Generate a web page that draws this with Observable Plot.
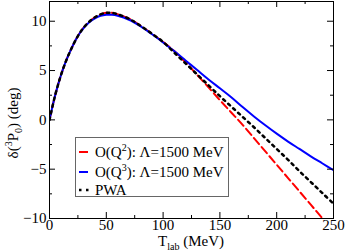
<!DOCTYPE html>
<html><head><meta charset="utf-8">
<script src="https://cdn.jsdelivr.net/npm/d3@7"></script>
<script src="https://cdn.jsdelivr.net/npm/@observablehq/plot@0.6"></script>
<style>body{margin:0;background:#fff} svg{display:block} svg text{font-family:"Liberation Serif","DejaVu Serif",serif}</style>
</head><body><div id="chart"></div>
<script>
const tlab = [0,5,10,15,20,25,30,35,40,45,50,55,60,70,80,90,100,110,120,130,140,150,160,170,180,190,200,210,220,230,240,250];
const q2 = [0,2.5,4.5,6.1,7.4,8.5,9.35,9.95,10.4,10.7,10.85,10.85,10.7,10.25,9.55,8.75,7.9,6.95,5.8,4.55,3.3,2.0,0.75,-0.5,-1.85,-3.2,-4.55,-5.9,-7.25,-8.6,-9.95,-11.3];
const q3 = [0,2.5,4.5,6.1,7.4,8.5,9.3,9.9,10.3,10.55,10.65,10.65,10.55,10.15,9.5,8.7,7.85,6.95,6.0,5.05,4.1,3.2,2.3,1.3,0.35,-0.55,-1.4,-2.2,-2.95,-3.7,-4.4,-5.1];
const pwa = [0,2.5,4.5,6.1,7.4,8.5,9.35,9.95,10.4,10.7,10.85,10.85,10.7,10.25,9.55,8.75,7.9,6.8,5.7,4.6,3.5,2.4,1.35,0.3,-0.75,-1.85,-2.95,-4.05,-5.2,-6.3,-7.4,-8.5];
const seriesNames = ["O(Q²): Λ=1500 MeV", "O(Q³): Λ=1500 MeV", "PWA"];
const xTicks = [0,50,100,150,200,250];
const xMinor = [25,75,125,175,225];
const yTicks = [-10,-5,0,5,10];
const yMinor = [-7.5,-2.5,2.5,7.5];

const font = "Liberation Serif, DejaVu Serif, serif";
const W = 345, H = 252, mL = 49, mR = 12, mT = 1, mB = 34;
const pw = W - mL - mR, ph = H - mT - mB;
const rows = vals => tlab.map((t, i) => ({t, v: vals[i]}));
const styles = [
  {stroke: "#ff0000", strokeWidth: 2, strokeDasharray: "8,4"},
  {stroke: "#0000ff", strokeWidth: 2},
  {stroke: "#000000", strokeWidth: 2.5, strokeDasharray: "2.5,4.2"}
];
const data = [q2, q3, pwa];

const tickMarks = [];
for (const [vals, len] of [[xTicks, 6], [xMinor, 3]]) {
  tickMarks.push(Plot.tickX(vals, {x: d => d, insetTop: ph - len, stroke: "#000"}));
  tickMarks.push(Plot.tickX(vals, {x: d => d, insetBottom: ph - len, stroke: "#000"}));
}
for (const [vals, len] of [[yTicks, 6], [yMinor, 3]]) {
  tickMarks.push(Plot.tickY(vals, {y: d => d, insetRight: pw - len, stroke: "#000"}));
  tickMarks.push(Plot.tickY(vals, {y: d => d, insetLeft: pw - len, stroke: "#000"}));
}

const svg = Plot.plot({
  width: W, height: H, marginLeft: mL, marginRight: mR, marginTop: mT, marginBottom: mB,
  style: {fontFamily: font, fontSize: "15px", background: "#fff", color: "#000"},
  x: {domain: [0, 250]},
  y: {domain: [-10, 12]},
  marks: [
    ...data.map((vals, i) => Plot.line(rows(vals), {x: "t", y: "v", curve: "catmull-rom", clip: true, ...styles[i]})),
    ...tickMarks,
    Plot.axisX(xTicks, {anchor: "bottom", tickSize: 0, tickPadding: 1, label: null, fontSize: 15}),
    Plot.axisY(yTicks, {anchor: "left", tickSize: 0, tickPadding: 3, label: null, fontSize: 15}),
    Plot.frame({stroke: "#000"})
  ]
});
document.getElementById("chart").appendChild(svg);

const s = d3.select(svg);
// axis titles
const xl = s.append("text").attr("x", mL + pw / 2).attr("y", 246).attr("text-anchor", "middle")
  .attr("font-family", font).attr("font-size", 15).attr("fill", "#000");
xl.append("tspan").text("T");
xl.append("tspan").attr("font-size", 10).attr("dy", 4).text("lab");
xl.append("tspan").attr("dy", -4).text(" (MeV)");

const yl = s.append("text").attr("transform", "translate(18,123) rotate(-90)").attr("text-anchor", "middle")
  .attr("font-family", font).attr("font-size", 15).attr("fill", "#000");
yl.append("tspan").text("δ(");
yl.append("tspan").attr("font-size", 10).attr("dy", -6).text("3");
yl.append("tspan").attr("dy", 6).text("P");
yl.append("tspan").attr("font-size", 10).attr("dy", 4).text("0");
yl.append("tspan").attr("dy", -4).text(") (deg)");

// legend
const lg = s.append("g").attr("text-anchor", "start");
lg.append("rect").attr("x", 75.5).attr("y", 137.5).attr("width", 153).attr("height", 59)
  .attr("fill", "#fff").attr("stroke", "#666");
const ly = [152, 172, 190];
seriesNames.forEach((name, i) => {
  const st = styles[i];
  const ln = lg.append("line").attr("x1", 79).attr("x2", i === 2 ? 90 : 88).attr("y1", ly[i]).attr("y2", ly[i])
    .attr("stroke", st.stroke).attr("stroke-width", st.strokeWidth);
  if (st.strokeDasharray) ln.attr("stroke-dasharray", i === 2 ? "2.5,4.5" : "9,4");
  const tx = lg.append("text").attr("x", 95).attr("y", ly[i] + 5).attr("text-anchor", "start")
    .attr("font-family", font).attr("font-size", 15).attr("fill", "#000");
  const m = name.match(/^O\(Q(.)\)(.*)$/);
  if (m) {
    tx.append("tspan").text("O(Q");
    tx.append("tspan").attr("font-size", 10).attr("dy", -6).text(m[1] === "²" ? "2" : "3");
    tx.append("tspan").attr("dy", 6).text(")" + m[2]);
  } else tx.text(name);
});
</script>
</body></html>
